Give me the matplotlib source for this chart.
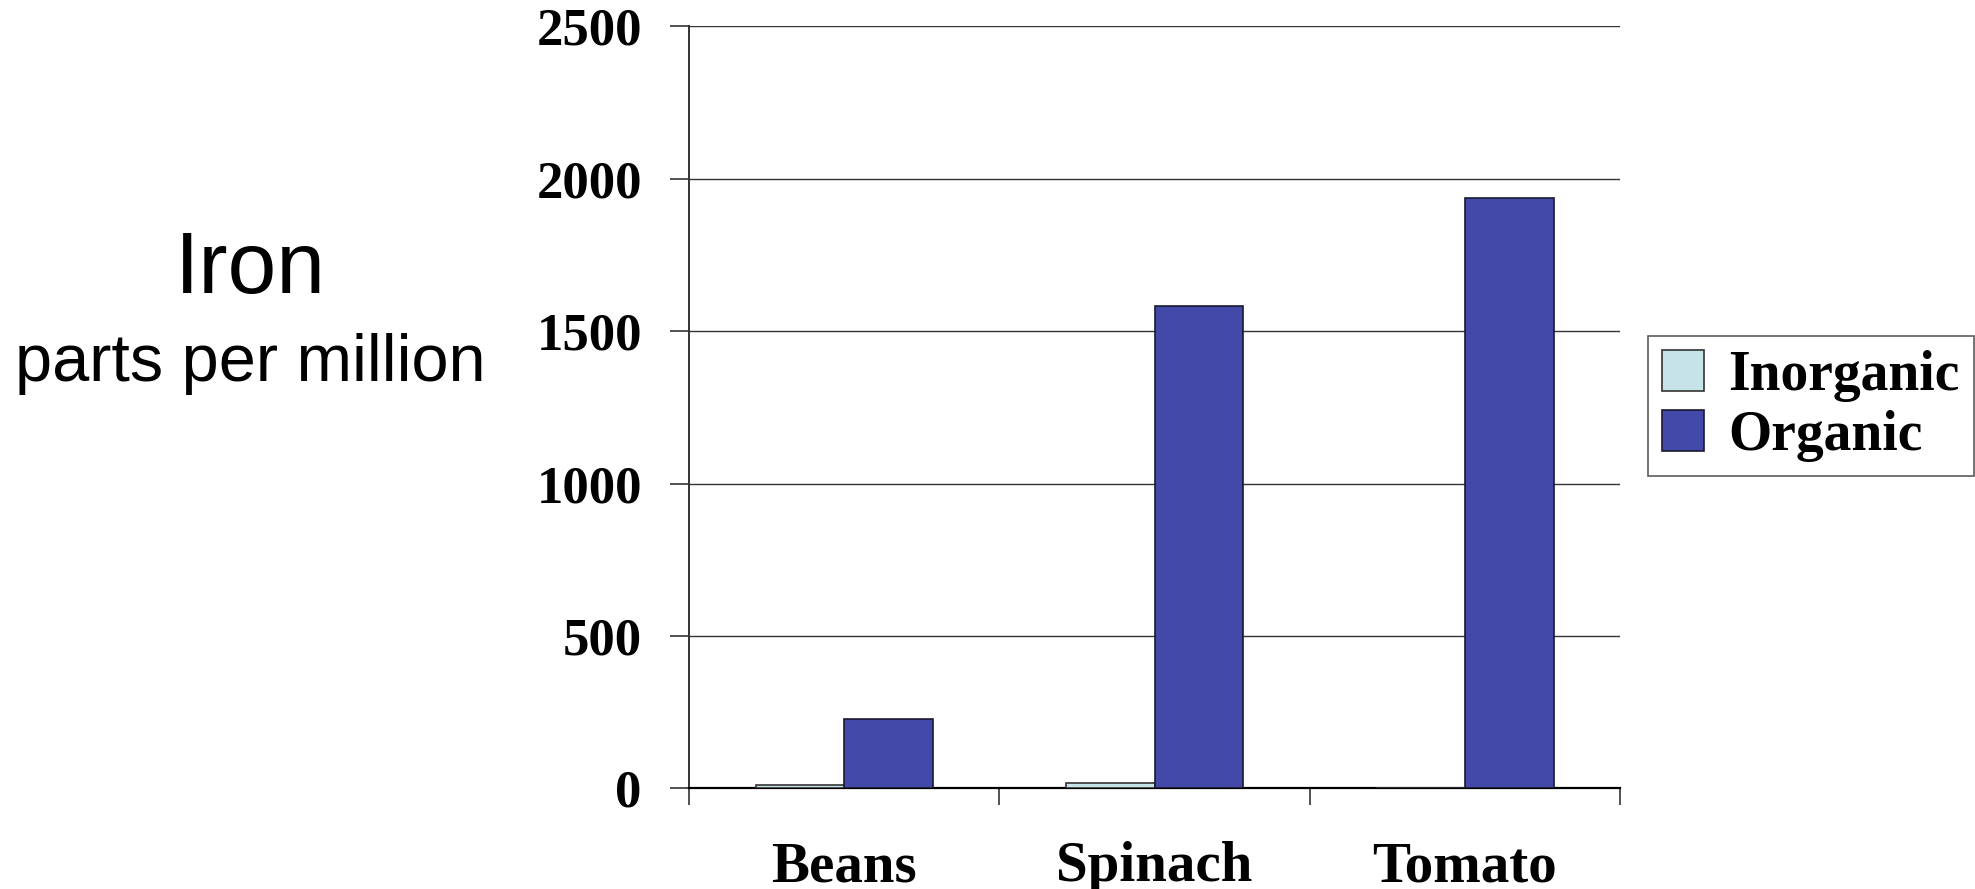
import matplotlib
matplotlib.use("Agg")
import matplotlib.pyplot as plt
import numpy as np

# ---------- Data ----------
categories = ["Beans", "Spinach", "Tomato"]
inorganic = [10, 19, 1]
organic = [227, 1584, 1938]
y_ticks = [0, 500, 1000, 1500, 2000, 2500]

serif_bold = {"family": "Liberation Serif", "weight": "bold"}

# ---------- Figure ----------
fig = plt.figure(figsize=(19.75, 8.89), dpi=100)
ax = fig.add_axes([0.3489, 0.1131, 0.4714, 0.8571])

x = np.arange(len(categories))
w = 1 / 3.5
ax.bar(x - w / 2, inorganic, w, color="#c6e4e8", edgecolor="#333333", linewidth=1.2,
       label="Inorganic", zorder=3)
ax.bar(x + w / 2, organic, w, color="#4349a9", edgecolor="#1a1a2e", linewidth=1.2,
       label="Organic", zorder=3)

ax.set_xlim(-0.5, 2.5)
ax.set_ylim(0, 2500)
ax.set_yticks(y_ticks)
ax.set_yticklabels([str(v) for v in y_ticks], fontsize=38, **serif_bold)
ax.yaxis.grid(True, color="#333333", linewidth=1.0, zorder=0)

# category boundaries as ticks, labels centred under groups
ax.set_xticks(np.arange(-0.5, 3, 1.0))
ax.set_xticklabels([])
ax.set_xticks(x, minor=True)
ax.set_xticklabels(categories, minor=True, fontsize=41, **serif_bold)
ax.tick_params(axis="x", which="major", direction="out", length=12, width=1.2, color="#333333")
ax.tick_params(axis="x", which="minor", length=0, pad=38)
ax.tick_params(axis="y", direction="out", length=14, width=1.2, color="#333333", pad=20)

for s in ["top", "right"]:
    ax.spines[s].set_visible(False)
ax.spines["left"].set_color("#333333")
ax.spines["left"].set_linewidth(1.4)
ax.spines["bottom"].set_color("black")
ax.spines["bottom"].set_linewidth(1.6)

# ---------- Side label ----------
fig.text(250 / 1975, 1 - 271 / 889, "Iron", family="Liberation Sans", fontsize=63,
         ha="center", va="center")
fig.text(250 / 1975, 1 - 364 / 889, "parts per million", family="Liberation Sans",
         fontsize=48, ha="center", va="center")

# ---------- Legend ----------
leg = fig.legend(loc="upper left", bbox_to_anchor=(1648 / 1975, 1 - 336 / 889),
                 prop={"family": "Liberation Serif", "weight": "bold", "size": 40},
                 frameon=True, fancybox=False, handlelength=0.75, handleheight=0.75,
                 handletextpad=0.45, borderpad=0.25, labelspacing=0.15, borderaxespad=0)
leg.get_frame().set_edgecolor("#333333")
leg.get_frame().set_linewidth(1.2)

plt.savefig("out.png", dpi=100)
